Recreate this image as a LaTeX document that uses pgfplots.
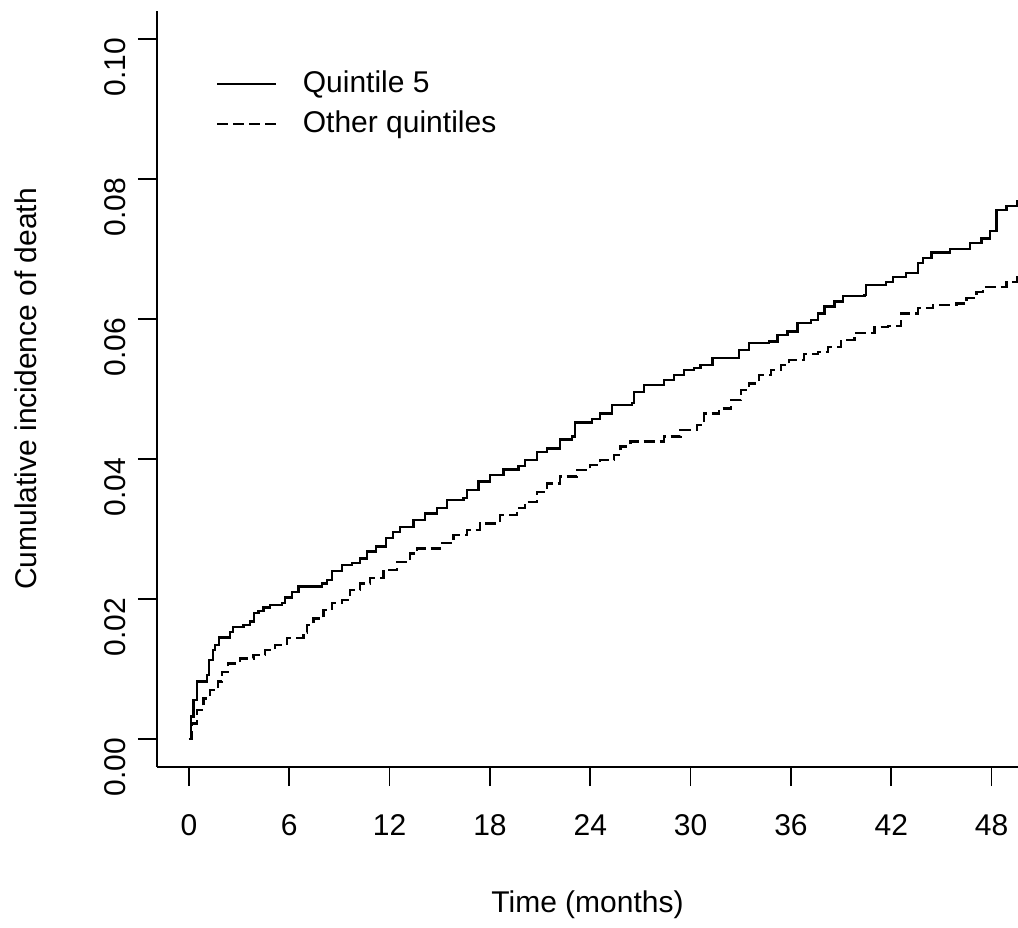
\documentclass[border=0pt]{standalone}
\usepackage{fontspec}
\setmainfont{Liberation Sans}
\usepackage{pgfplots}
\pgfplotsset{compat=1.18}

\begin{document}
\begin{tikzpicture}
  % 1 px of the reference = 0.3pt
  \useasboundingbox (-47.1pt,-48.3pt) rectangle (258.3pt,230.1pt);
  \begin{axis}[
    scale only axis,
    width=258.3pt, height=226.8pt,
    xmin=-1.914, xmax=49.58,
    ymin=-0.004, ymax=0.104,
    axis x line*=bottom, axis y line*=left,
    axis line style={-, line width=0.5pt},
    tick align=outside, major tick length=5.7pt,
    tick style={black, line width=0.5pt},
    xtick={0,6,...,48},
    ytick={0,0.02,...,0.1},
    scaled y ticks=false,
    /pgf/number format/assume math mode=true,
    yticklabel style={/pgf/number format/fixed, /pgf/number format/fixed zerofill,
      /pgf/number format/precision=2, rotate=90, anchor=south, xshift=-8.5pt},
    xticklabel style={yshift=-5pt},
    font=\fontsize{9pt}{11pt}\selectfont,
    xlabel={Time (months)},
    ylabel={Cumulative incidence of death},
    xlabel style={at={(axis description cs:0.5,-0.1825)}, anchor=center},
    ylabel style={at={(axis description cs:-0.152,0.5)}, anchor=center},
    legend style={draw=none, fill=none, at={(axis description cs:0.056,0.94)},
      anchor=north west, row sep=0pt, font=\fontsize{9pt}{10.5pt}\selectfont},
    legend cell align=left,
    legend image code/.code={\draw[#1] (0pt,0pt) -- (17.7pt,0pt); \path (23.4pt,0pt);},
  ]
    \addplot[const plot, black, line width=0.7pt] coordinates {
      (0,0) (0.1,0.0032) (0.26,0.0056) (0.46,0.0082) (1.06,0.0091) (1.21,0.0113)
      (1.42,0.0127) (1.56,0.0134) (1.8,0.0145) (2.45,0.0153) (2.65,0.016) (3.25,0.0163)
      (3.65,0.0168) (3.89,0.018) (4.15,0.0183) (4.45,0.0188) (4.85,0.0191) (5.55,0.0194)
      (5.75,0.0202) (6.15,0.021) (6.55,0.0218) (7.94,0.0222) (8.24,0.0227) (8.54,0.024)
      (9.14,0.0249) (9.74,0.0251) (10.23,0.0258) (10.63,0.0268) (11.2,0.0275) (11.8,0.0287)
      (12.2,0.0296) (12.63,0.0303) (13.42,0.0313) (14.12,0.0322) (14.82,0.033) (15.42,0.0341)
      (16.41,0.0344) (16.62,0.0356) (17.31,0.0368) (18.01,0.0377) (18.81,0.0385) (19.71,0.039)
      (20.1,0.0399) (20.8,0.041) (21.4,0.0415) (22.2,0.0428) (22.9,0.0432) (23.1,0.0452)
      (24.1,0.0457) (24.6,0.0465) (25.3,0.0477) (26.5,0.048) (26.6,0.0496) (27.2,0.0506)
      (28.4,0.0513) (29.0,0.052) (29.6,0.0527) (30.2,0.053) (30.6,0.0534) (31.3,0.0544)
      (32.9,0.0556) (33.5,0.0566) (34.7,0.0568) (35.2,0.0577) (35.8,0.0582) (36.4,0.0594)
      (37.2,0.0599) (37.6,0.0608) (38,0.0618) (38.6,0.0625) (39.1,0.0633) (40.4,0.0634)
      (40.5,0.0649) (41.7,0.0653) (42.1,0.066) (42.9,0.0666) (43.6,0.068) (43.9,0.0687)
      (44.4,0.0695) (45.5,0.07) (46.7,0.0709) (47.4,0.0715) (47.9,0.0726) (48.3,0.0756)
      (48.9,0.0761) (49.5,0.0769) (49.6,0.0769)
    };
    \addplot[const plot, black, line width=0.7pt, dash pattern=on 3.3pt off 1.5pt] coordinates {
      (0,0) (0.16,0.0022) (0.46,0.0041) (0.86,0.0058) (1.26,0.007) (1.75,0.0082)
      (1.96,0.0096) (2.35,0.0108) (3.05,0.0115) (3.85,0.012) (4.55,0.0127) (5.15,0.0134)
      (5.85,0.0144) (6.84,0.0152) (7.04,0.0163) (7.44,0.0172) (8.04,0.0184) (8.54,0.0194)
      (9.14,0.0199) (9.63,0.0213) (10.23,0.0222) (10.83,0.023) (11.63,0.0241) (12.43,0.0253)
      (13.2,0.0265) (13.63,0.0272) (15.02,0.028) (15.82,0.0291) (16.62,0.0299) (17.41,0.0308)
      (18.61,0.032) (19.61,0.033) (20.1,0.0339) (20.8,0.0353) (21.4,0.0365) (22.2,0.0375)
      (23.2,0.0384) (24,0.0391) (24.6,0.0399) (25.4,0.0406) (25.8,0.0418) (26.4,0.0425)
      (28.4,0.0432) (29.4,0.0441) (30.4,0.0449) (30.8,0.0465) (31.7,0.0472) (32.4,0.0484)
      (33,0.0499) (33.5,0.0508) (34.1,0.052) (34.8,0.0527) (35.4,0.0534) (35.9,0.0541)
      (36.8,0.055) (37.6,0.0553) (38.2,0.056) (39,0.057) (39.8,0.058) (41,0.0589)
      (41.8,0.059) (42.6,0.0608) (43.6,0.0616) (44.5,0.062) (45.9,0.0622) (46.5,0.063)
      (47.1,0.0639) (47.5,0.0646) (48.9,0.0653) (49.5,0.0663) (49.6,0.0663)
    };
    \legend{Quintile 5, Other quintiles}
  \end{axis}
\end{tikzpicture}
\end{document}
